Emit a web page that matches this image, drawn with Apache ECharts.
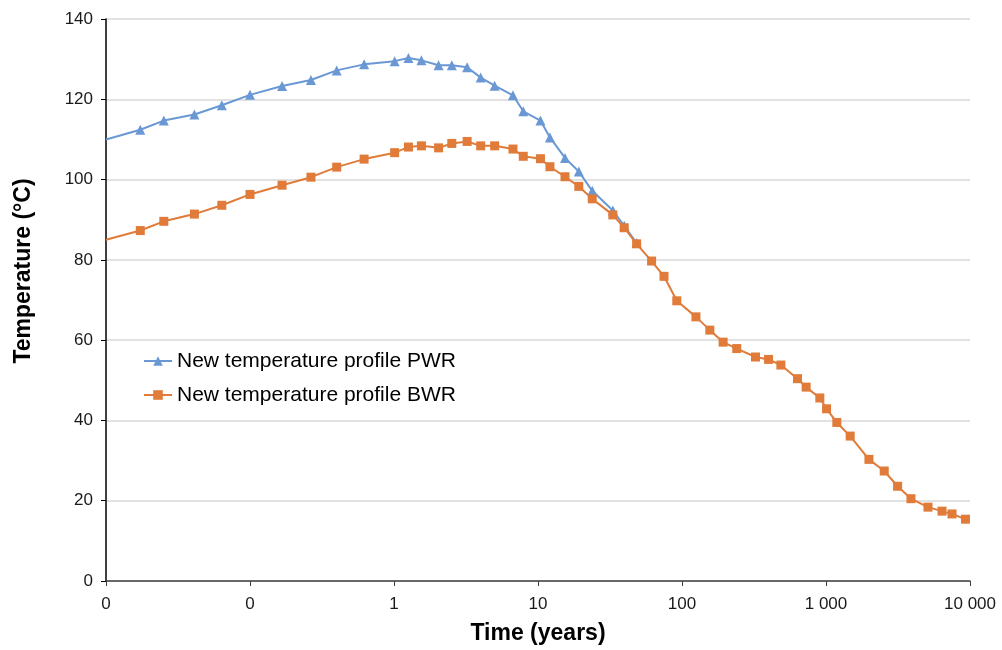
<!DOCTYPE html>
<html>
<head>
<meta charset="utf-8">
<script src="https://cdn.jsdelivr.net/npm/echarts@6/dist/echarts.min.js"></script>
<style>html,body{margin:0;padding:0;background:#fff}#c{width:1002px;height:650px}</style>
</head>
<body>
<div id="c"></div>
<script>
// Time (years) for each marker
var times = [0.01, 0.0173, 0.0252, 0.0411, 0.0637, 0.1, 0.167, 0.265, 0.40, 0.62, 1.01, 1.26, 1.55, 2.04, 2.52, 3.22, 4.0, 5.0, 6.7, 7.9, 10.4, 12.1, 15.4, 19.2, 23.8, 33.1, 39.7, 48.4,
  61.5, 75, 92, 125, 156, 193, 240, 324, 399, 486, 634, 728, 906, 1009, 1189, 1472, 1987, 2537, 3143, 3890, 5107, 6393, 7501, 9300];
var pwr = [110, 112.4, 114.7, 116.2, 118.5, 121.1, 123.3, 124.8, 127.2, 128.7, 129.5, 130.3, 129.7, 128.5, 128.5, 128.0, 125.4, 123.4, 121.0, 117.0, 114.7, 110.5, 105.4, 102.0, 97.2, 92.3, 88.5, 84.2];
var bwr = [85, 87.3, 89.6, 91.4, 93.6, 96.3, 98.6, 100.6, 103.1, 105.1, 106.7, 108.1, 108.4, 107.9, 109.0, 109.5, 108.4, 108.4, 107.6, 105.8, 105.2, 103.2, 100.7, 98.3, 95.2, 91.2, 88.0, 84.0,
  79.7, 75.9, 69.8, 65.8, 62.5, 59.5, 57.9, 55.8, 55.2, 53.8, 50.4, 48.3, 45.6, 42.9, 39.5, 36.1, 30.3, 27.4, 23.6, 20.5, 18.4, 17.4, 16.7, 15.4];
var xTickLabels = ['0', '0', '1', '10', '100', '1 000', '10 000'];
var seriesNames = ['New temperature profile PWR', 'New temperature profile BWR'];

function pairs(vals) {
  return vals.map(function (v, i) {
    var item = { value: [times[i], v] };
    if (i === 0) item.symbol = 'none';
    return item;
  });
}

var FONT = "'Liberation Sans', Arial, sans-serif";
var chart = echarts.init(document.getElementById('c'));
chart.setOption({
  animation: false,
  textStyle: { fontFamily: FONT },
  grid: { left: 106, right: 32, top: 19, bottom: 67, containLabel: false },
  legend: {
    orient: 'vertical', left: 143, top: 350, padding: 0, itemWidth: 28, itemHeight: 12, itemGap: 12,
    textStyle: { fontSize: 21, color: '#000', fontFamily: FONT, lineHeight: 22 },
    data: seriesNames
  },
  xAxis: {
    type: 'log', logBase: 10, min: 0.01, max: 10000, splitNumber: 6,
    name: 'Time (years)', nameLocation: 'middle', nameGap: 41,
    nameTextStyle: { fontSize: 23, fontWeight: 'bold', color: '#000', fontFamily: FONT },
    axisLine: { lineStyle: { color: '#404040', width: 1.5 } },
    axisTick: { show: true, inside: false, length: 5, lineStyle: { color: '#404040' } },
    minorTick: { show: false },
    splitLine: { show: false },
    axisLabel: {
      fontSize: 17, color: '#1a1a1a', margin: 15, fontFamily: FONT,
      formatter: function (v) { return xTickLabels[Math.round(Math.log10(v)) + 2]; }
    }
  },
  yAxis: {
    type: 'value', min: 0, max: 140, interval: 20,
    name: 'Temperature (°C)', nameLocation: 'middle', nameGap: 71, nameRotate: 90,
    nameTextStyle: { fontSize: 23, fontWeight: 'bold', color: '#000', fontFamily: FONT, padding: [0, 0, 0, 58] },
    axisLine: { show: true, lineStyle: { color: '#000', width: 1.5 } },
    axisTick: { show: true, inside: false, length: 5, lineStyle: { color: '#000' } },
    splitLine: { lineStyle: { color: '#d9d9d9', width: 1.5 } },
    axisLabel: { fontSize: 17, color: '#1a1a1a', margin: 13, fontFamily: FONT }
  },
  series: [
    {
      name: seriesNames[0], type: 'line', data: pairs(pwr), symbol: 'triangle', symbolSize: 10,
      lineStyle: { color: '#6A98D4', width: 2 }, itemStyle: { color: '#6A98D4' }, z: 2
    },
    {
      name: seriesNames[1], type: 'line', data: pairs(bwr), symbol: 'rect', symbolSize: 9,
      lineStyle: { color: '#E07B39', width: 2 }, itemStyle: { color: '#E07B39' }, z: 3
    }
  ]
});
</script>
</body>
</html>
